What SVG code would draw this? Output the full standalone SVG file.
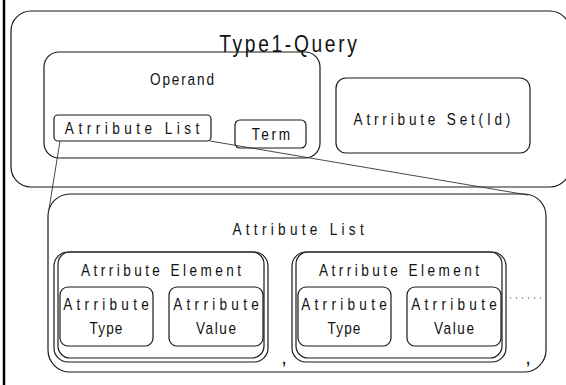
<svg xmlns="http://www.w3.org/2000/svg" width="566" height="385" viewBox="0 0 566 385">
  <style>
    .box { fill: none; stroke: #1a1a1a; stroke-width: 1.2; }
    .link { fill: none; stroke: #333; stroke-width: 0.9; }
    /* narrow, widely spaced lettering: glyphs squeezed around their own centre */
    .lbl { font-family: "Liberation Sans", Arial, sans-serif; font-size: 17px; fill: #111; text-anchor: middle;
           transform-box: fill-box; transform-origin: center; transform: scaleX(0.8); }
    .big { font-size: 24px; }
    .comma { font-family: "Liberation Sans", Arial, sans-serif; font-size: 20px; fill: #111; text-anchor: middle; }
  </style>
  <rect x="0" y="0" width="566" height="385" fill="#fff"/>
  <!-- page margin rule -->
  <line x1="4" y1="0" x2="4" y2="385" stroke="#000" stroke-width="2.5"/>

  <g id="type1-query">
    <rect class="box" x="11" y="11" width="559" height="176" rx="20"/>
    <text class="lbl big" x="288" y="52" textLength="172" lengthAdjust="spacing">Type1-Query</text>
  </g>

  <g id="operand">
    <rect class="box" x="44" y="52" width="276" height="106" rx="15"/>
    <text class="lbl" x="182" y="85" textLength="80" lengthAdjust="spacing">Operand</text>
  </g>

  <g id="attr-list-ref">
    <rect class="box" x="54" y="115" width="157" height="26" rx="4"/>
    <text class="lbl" x="132" y="134" textLength="168" lengthAdjust="spacing">Atrribute List</text>
  </g>

  <g id="term">
    <rect class="box" x="235" y="120" width="71" height="28" rx="5"/>
    <text class="lbl" x="271" y="140" textLength="48" lengthAdjust="spacing">Term</text>
  </g>

  <g id="attr-set">
    <rect class="box" x="336" y="78" width="194" height="75" rx="10"/>
    <text class="lbl" x="432" y="125" textLength="196" lengthAdjust="spacing">Atrribute Set(Id)</text>
  </g>

  <g id="connectors">
    <line class="link" x1="60" y1="141" x2="49" y2="209"/>
    <line class="link" x1="210" y1="141" x2="528" y2="195"/>
  </g>

  <g id="attr-list">
    <rect class="box" x="48" y="194" width="498" height="178" rx="22"/>
    <text class="lbl" x="298" y="235" textLength="164" lengthAdjust="spacing">Attribute List</text>
  </g>

  <g id="attr-element-1">
    <rect class="box" x="54" y="252" width="214" height="110" rx="14"/>
    <rect class="box" x="58" y="252" width="206" height="106" rx="12"/>
    <text class="lbl" x="161" y="276" textLength="200" lengthAdjust="spacing">Atrribute Element</text>
  </g>
  <g id="attr-type-1">
    <rect class="box" x="60" y="287" width="93" height="59" rx="8"/>
    <text class="lbl" x="106" y="310" textLength="107" lengthAdjust="spacing">Atrribute</text>
    <text class="lbl" x="106" y="334" textLength="41" lengthAdjust="spacing">Type</text>
  </g>
  <g id="attr-value-1">
    <rect class="box" x="169" y="287" width="94" height="59" rx="8"/>
    <text class="lbl" x="216" y="310" textLength="107" lengthAdjust="spacing">Atrribute</text>
    <text class="lbl" x="216" y="334" textLength="50" lengthAdjust="spacing">Value</text>
  </g>
  <text class="comma" x="284" y="364">,</text>

  <g id="attr-element-2">
    <rect class="box" x="292" y="252" width="214" height="110" rx="14"/>
    <rect class="box" x="296" y="252" width="206" height="106" rx="12"/>
    <text class="lbl" x="399" y="276" textLength="200" lengthAdjust="spacing">Atrribute Element</text>
  </g>
  <g id="attr-type-2">
    <rect class="box" x="298" y="287" width="93" height="59" rx="8"/>
    <text class="lbl" x="344" y="310" textLength="107" lengthAdjust="spacing">Atrribute</text>
    <text class="lbl" x="344" y="334" textLength="41" lengthAdjust="spacing">Type</text>
  </g>
  <g id="attr-value-2">
    <rect class="box" x="407" y="287" width="94" height="59" rx="8"/>
    <text class="lbl" x="454" y="310" textLength="107" lengthAdjust="spacing">Atrribute</text>
    <text class="lbl" x="454" y="334" textLength="50" lengthAdjust="spacing">Value</text>
  </g>
  <line x1="510" y1="298" x2="541" y2="298" stroke="#444" stroke-width="1.1" stroke-dasharray="1.2 4.8"/>
  <text class="comma" x="528" y="364">,</text>
</svg>
